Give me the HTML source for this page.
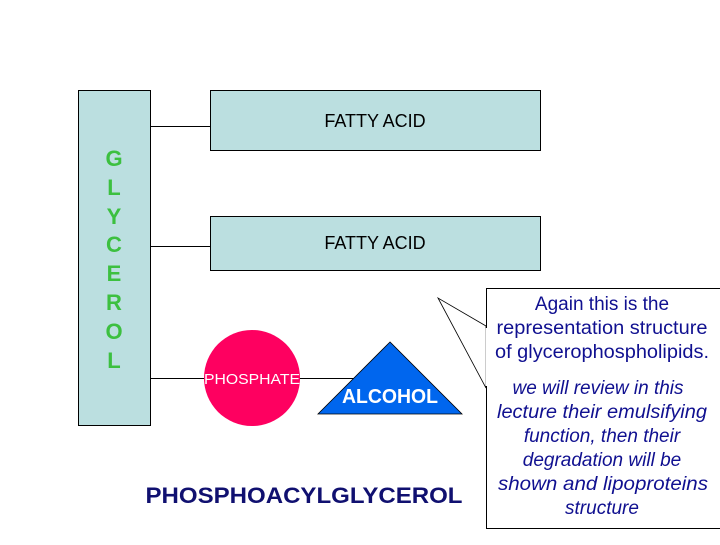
<!DOCTYPE html>
<html><head><style>body{margin:0;background:#fff}</style></head><body>
<svg width="720" height="540" xmlns="http://www.w3.org/2000/svg" font-family="Liberation Sans, sans-serif">
<rect width="720" height="540" fill="#fff"/>
<rect x="78.5" y="90.5" width="72" height="335" fill="#bbdfe0" stroke="#000"/>
<g fill="#3cc040" font-size="22" font-weight="bold" text-anchor="middle">
<text x="114" y="166">G</text><text x="114" y="195">L</text><text x="114" y="224">Y</text><text x="114" y="252">C</text><text x="114" y="281">E</text><text x="114" y="310">R</text><text x="114" y="339">O</text><text x="114" y="368">L</text>
</g>
<line x1="150" y1="126.5" x2="210" y2="126.5" stroke="#000"/>
<line x1="150" y1="246.5" x2="210" y2="246.5" stroke="#000"/>
<line x1="150" y1="378.5" x2="360" y2="378.5" stroke="#000"/>
<rect x="210.5" y="90.5" width="330" height="60" fill="#bbdfe0" stroke="#000"/>
<rect x="210.5" y="216.5" width="330" height="54" fill="#bbdfe0" stroke="#000"/>
<text x="375" y="127" font-size="18" text-anchor="middle">FATTY ACID</text>
<text x="375" y="249" font-size="18" text-anchor="middle">FATTY ACID</text>
<circle cx="252" cy="378" r="48" fill="#fe0060"/>
<text x="252" y="384" font-size="15" fill="#fff" text-anchor="middle" textLength="96" lengthAdjust="spacingAndGlyphs">PHOSPHATE</text>
<polygon points="390,342 318,414 462,414" fill="#0066ee" stroke="#000" stroke-width="0.8"/>
<text x="390" y="403" font-size="20" font-weight="bold" fill="#fff" text-anchor="middle" textLength="96" lengthAdjust="spacingAndGlyphs">ALCOHOL</text>
<text x="304" y="503" font-size="22" font-weight="bold" fill="#101070" text-anchor="middle" textLength="317" lengthAdjust="spacingAndGlyphs">PHOSPHOACYLGLYCEROL</text>
<rect x="486.5" y="288.5" width="240" height="240" fill="#fff" stroke="#000"/>
<polygon points="486,326 438,298 486,388" fill="#fff" stroke="#000" stroke-width="0.8"/>
<line x1="486.5" y1="328" x2="486.5" y2="386" stroke="#fff" stroke-width="1.5"/>
<g fill="#101090" font-size="19" text-anchor="middle">
<text x="602" y="310">Again this is the</text>
<text x="602" y="334" textLength="211" lengthAdjust="spacingAndGlyphs">representation structure</text>
<text x="602" y="358" textLength="214" lengthAdjust="spacingAndGlyphs">of glycerophospholipids.</text>
<g font-style="italic">
<text x="598" y="394">we will review  in this</text>
<text x="602" y="418" textLength="210" lengthAdjust="spacingAndGlyphs">lecture their emulsifying</text>
<text x="602" y="442">function,  then their</text>
<text x="602" y="466">degradation will be</text>
<text x="603" y="490" textLength="210" lengthAdjust="spacingAndGlyphs">shown and  lipoproteins</text>
<text x="602" y="514">structure</text>
</g></g>
</svg>
</body></html>
